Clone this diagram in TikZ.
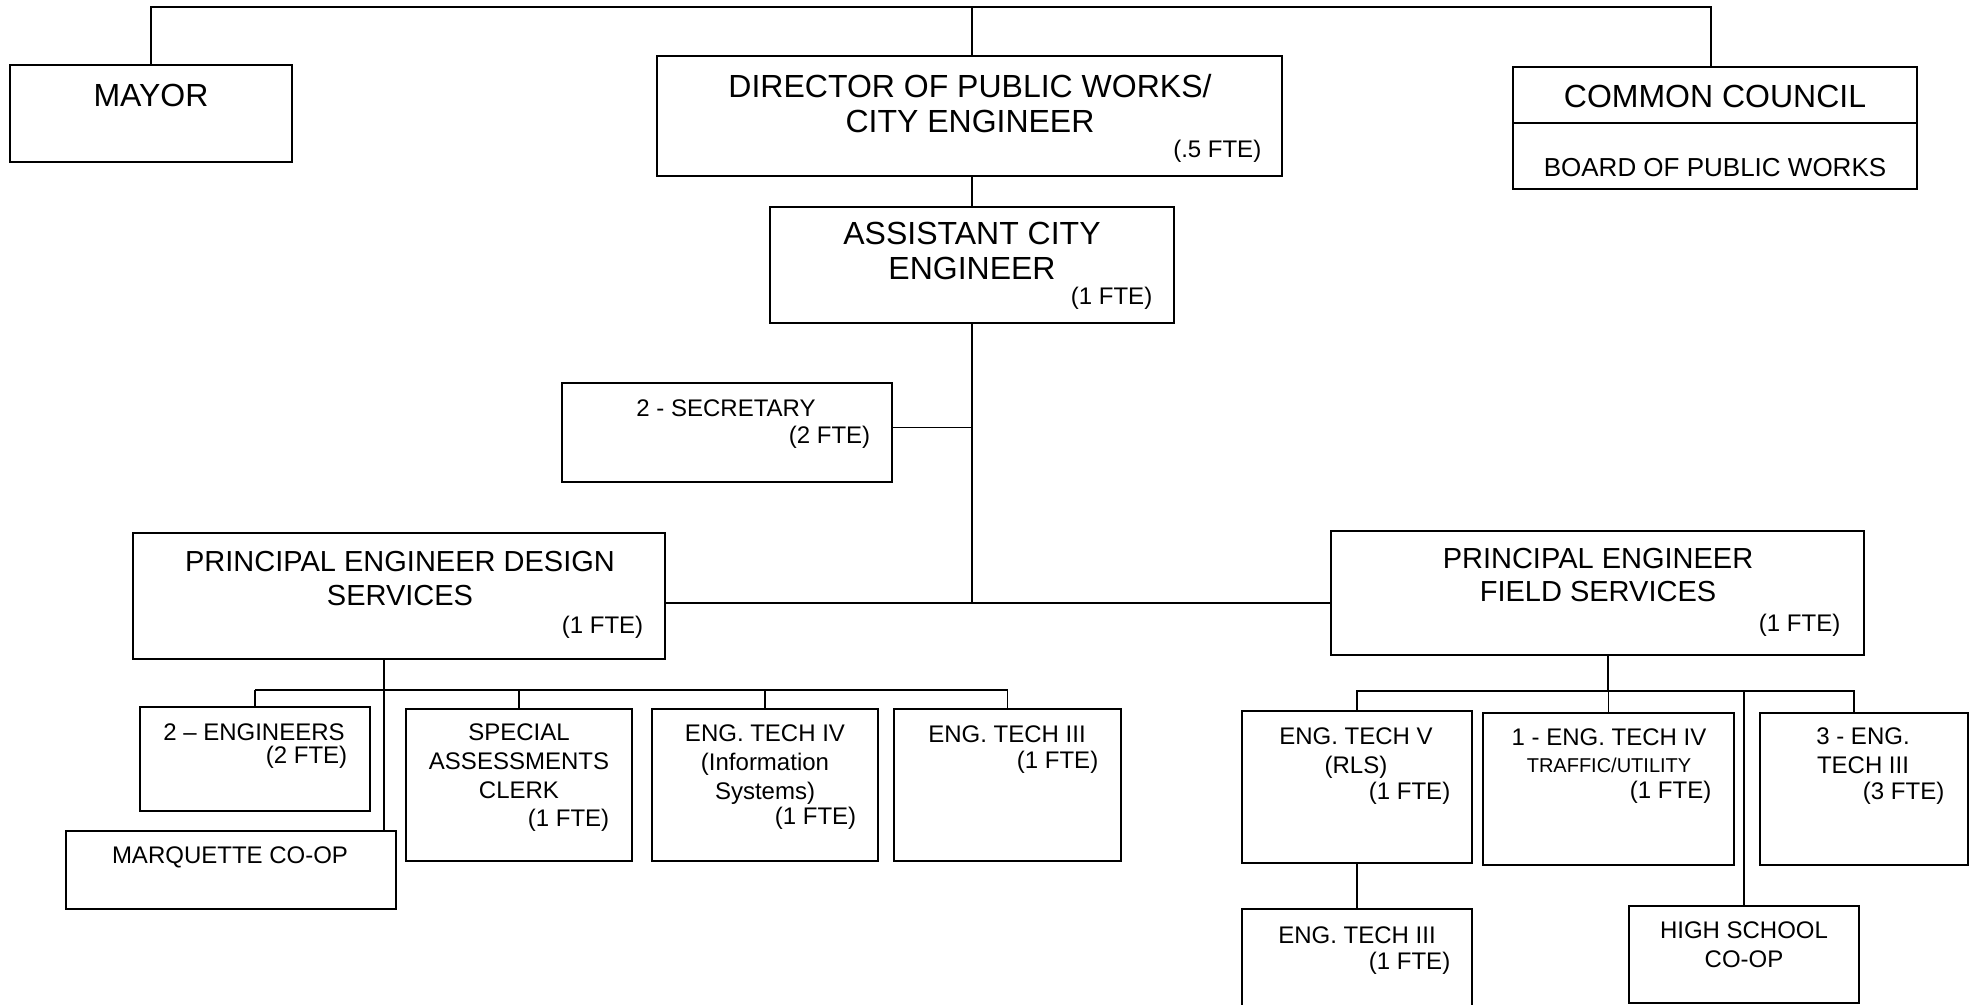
\documentclass[tikz,border=0pt]{standalone}
\usepackage{fontspec}
\setmainfont{Liberation Sans}
\usetikzlibrary{fit}

\begin{document}
\begin{tikzpicture}[x=0.5pt, y=-0.5pt, line width=0.75pt,
		orgbox/.style={draw, line width=0.9pt, inner sep=0pt},
		bigtxt/.style={font=\fontsize{16}{17.5}\selectfont, align=center, anchor=base, inner sep=0pt},
		midtxt/.style={font=\fontsize{14.5}{16.75}\selectfont, align=center, anchor=base, inner sep=0pt},
		smalltxt/.style={font=\fontsize{12}{14.5}\selectfont, align=center, anchor=base, inner sep=0pt},
		tinytxt/.style={font=\fontsize{10}{12}\selectfont, anchor=base, inner sep=0pt},
		fte/.style={font=\fontsize{12}{14.5}\selectfont, anchor=east, inner sep=0pt}]
		\useasboundingbox (0,0) rectangle (1977,1005);
		\clip (0,0) rectangle (1977,1005);
		% ---------------- top level ----------------
		\node[orgbox, fit={(10,65) (292,162)}] (mayor) {};
		\node[bigtxt] (mayorT) at (151,107) {MAYOR};
		\node[orgbox, fit={(657,56) (1282,176)}] (director) {};
		\node[bigtxt] (directorT) at (970,133) {DIRECTOR OF PUBLIC WORKS/\\CITY ENGINEER};
		\node[fte] (directorF) at (1262,151) {(.5 FTE)};
		\node[orgbox, fit={(1513,67) (1917,189)}] (council) {};
		\node[bigtxt] (councilT) at (1715,108) {COMMON COUNCIL};
		\node[bigtxt, font=\fontsize{13}{15}\selectfont] (boardT) at (1715,177) {BOARD OF PUBLIC WORKS};
		\draw[line width=0.9pt] (council.west |- 0,123) -- (council.east |- 0,123);
		\coordinate (top) at (972,7);
		\draw (mayor.north) |- (top) -| ([xshift=-2pt]council.north);
		\draw (director.north -| top) -- (top);
		% ---------------- assistant and secretary ----------------
		\node[orgbox, fit={(770,207) (1174,323)}] (assistant) {};
		\node[bigtxt] (assistantT) at (972,280) {ASSISTANT CITY\\ENGINEER};
		\node[fte] (assistantF) at (1153,298) {(1 FTE)};
		\node[orgbox, fit={(562,383) (892,482)}] (secretary) {};
		\node[smalltxt] (secretaryT) at (726,417) {2 - SECRETARY};
		\node[fte] (secretaryF) at (871,437) {(2 FTE)};
		\coordinate (mid) at (972,603);
		\draw (director.south -| top) -- (assistant.north -| top);
		\draw (assistant.south -| top) -- (mid);
		\draw ([yshift=2.5pt]secretary.east) -- ([yshift=2.5pt]secretary.east -| mid);
		% ---------------- principal engineers ----------------
		\node[orgbox, fit={(133,533) (665,659)}] (design) {};
		\node[midtxt] (designT) at (400,605) {PRINCIPAL ENGINEER DESIGN\\SERVICES};
		\node[fte] (designF) at (644,627) {(1 FTE)};
		\node[orgbox, fit={(1331,531) (1864,655)}] (field) {};
		\node[midtxt] (fieldT) at (1598,602) {PRINCIPAL ENGINEER\\FIELD SERVICES};
		\node[fte] (fieldF) at (1841,625) {(1 FTE)};
		\draw (design.east |- mid) -- (field.west |- mid);
		% ---------------- design services ----------------
		\coordinate (dbus) at (384,690);
		\node[orgbox, fit={(140,707) (370,811)}] (engineers) {};
		\node[smalltxt] (engineersT) at (254,740) {2 – ENGINEERS};
		\node[fte] (engineersF) at (348,757) {(2 FTE)};
		\node[orgbox, fit={(66,831) (396,909)}] (marquette) {};
		\node[smalltxt] (marquetteT) at (230,863) {MARQUETTE CO-OP};
		\node[orgbox, fit={(406,709) (632,861)}] (clerk) {};
		\node[smalltxt] (clerkT) at (519,798) {SPECIAL\\ASSESSMENTS\\CLERK};
		\node[fte] (clerkF) at (610,820) {(1 FTE)};
		\node[orgbox, fit={(652,709) (878,861)}] (infosys) {};
		\node[smalltxt] (infosysT) at (765,799) {ENG. TECH IV\\(Information\\Systems)};
		\node[fte] (infosysF) at (857,818) {(1 FTE)};
		\node[orgbox, fit={(894,709) (1121,861)}] (techD) {};
		\node[smalltxt] (techDT) at (1007,742) {ENG. TECH III};
		\node[fte] (techDF) at (1099,762) {(1 FTE)};
		\draw (design.south -| dbus) -- (marquette.north -| dbus);
		\draw (engineers.north |- dbus) -- (techD.north |- dbus);
		\foreach \n in {engineers,clerk,infosys,techD}
			\draw (\n.north) -- (\n.north |- dbus);
		% ---------------- field services ----------------
		\coordinate (fbus) at (1608,691);
		\node[orgbox, fit={(1242,711) (1472,863)}] (rls) {};
		\node[smalltxt] (rlsT) at (1356,773) {ENG. TECH V\\(RLS)};
		\node[fte] (rlsF) at (1451,793) {(1 FTE)};
		\node[orgbox, fit={(1483,713) (1734,865)}] (traffic) {};
		\node[smalltxt] (trafficT) at (1609,745) {1 - ENG. TECH IV};
		\node[tinytxt] (trafficU) at (1609,772) {TRAFFIC/UTILITY};
		\node[fte] (trafficF) at (1712,792) {(1 FTE)};
		\node[orgbox, fit={(1760,713) (1968,865)}] (techF) {};
		\node[smalltxt] (techFT) at (1863,773) {3 - ENG.\\TECH III};
		\node[fte] (techFF) at (1945,793) {(3 FTE)};
		\node[orgbox, fit={(1242,909) (1472,1030)}] (techR) {};
		\node[smalltxt] (techRT) at (1357,943) {ENG. TECH III};
		\node[fte] (techRF) at (1451,963) {(1 FTE)};
		\node[orgbox, fit={(1629,906) (1859,1003)}] (school) {};
		\node[smalltxt] (schoolT) at (1744,967) {HIGH SCHOOL\\CO-OP};
		\draw (field.south -| fbus) -- (fbus);
		\draw (rls.north) |- ([xshift=-5pt]techF.north |- fbus) -- ([xshift=-5pt]techF.north);
		\draw (traffic.north) -- (traffic.north |- fbus);
		\draw (school.north) -- (school.north |- fbus);
		\draw (rls.south) -- (techR.north);
	\end{tikzpicture}
\end{document}
